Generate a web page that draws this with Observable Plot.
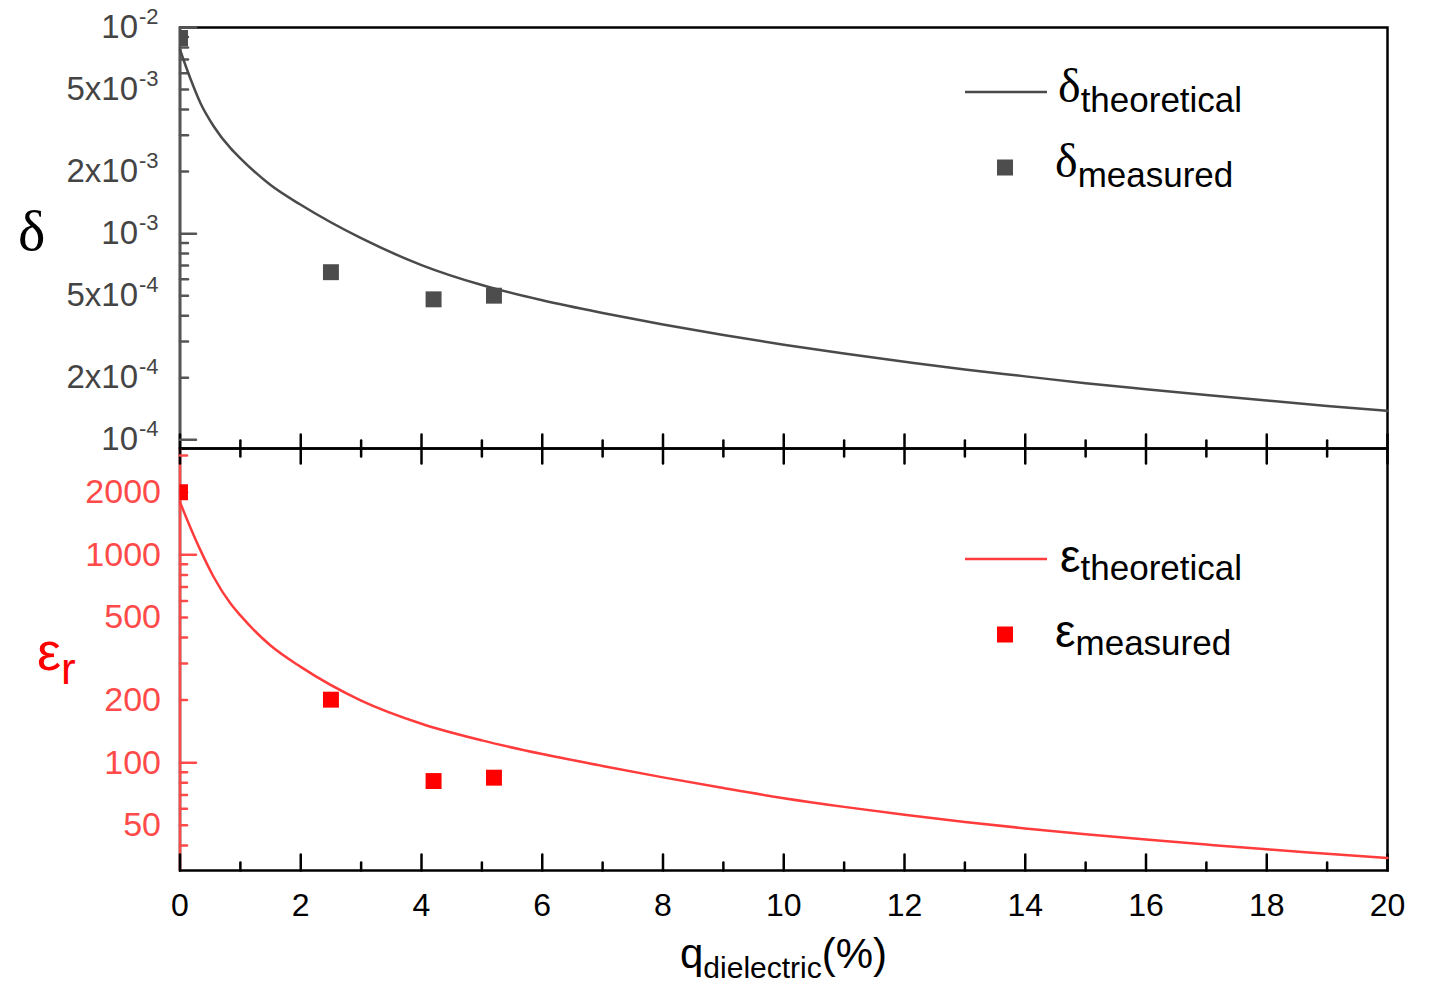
<!DOCTYPE html>
<html>
<head>
<meta charset="utf-8">
<script src="https://cdn.jsdelivr.net/npm/d3@7"></script>
<script src="https://cdn.jsdelivr.net/npm/@observablehq/plot@0.6"></script>
<style>
html, body { margin: 0; padding: 0; background: #fff; overflow: hidden; }
#wrap { position: relative; width: 1435px; height: 984px; }
#wrap svg { position: absolute; left: 0; max-width: none; }
</style>
</head>
<body>
<div id="wrap"></div>
<script>
// ---- data ----
const xTheory     = [0, 0.17, 0.34, 0.56, 0.84, 1, 1.5, 2, 3, 4, 5, 6, 7, 8, 9, 10, 11, 12, 13, 14, 15, 16, 17, 18, 19, 20];
const deltaTheory = [7.8e-3, 5.67e-3, 4.29e-3, 3.31e-3, 2.59e-3, 2.32e-3, 1.72e-3, 1.38e-3, 9.5e-4, 7.04e-4, 5.63e-4, 4.75e-4, 4.12e-4, 3.62e-4, 3.22e-4, 2.89e-4, 2.62e-4, 2.39e-4, 2.19e-4, 2.03e-4, 1.88e-4, 1.76e-4, 1.65e-4, 1.55e-4, 1.46e-4, 1.38e-4];
const epsTheory   = [1790, 1358, 1050, 780, 581, 511, 366, 289, 199, 154, 128, 110, 96.5, 85, 75.5, 67.5, 61.3, 56.2, 51.9, 48.3, 45.3, 42.7, 40.4, 38.3, 36.5, 34.8];

const xMeasured     = [0, 2.5, 4.2, 5.2];
const deltaMeasured = [8.9e-3, 6.5e-4, 4.8e-4, 5.0e-4];
const epsMeasured   = [2000, 201, 81.6, 84.7];

const xMajorTicks = [0, 2, 4, 6, 8, 10, 12, 14, 16, 18, 20];
const xMinorTicks = [1, 3, 5, 7, 9, 11, 13, 15, 17, 19];
const xTickLabels = ["0", "2", "4", "6", "8", "10", "12", "14", "16", "18", "20"];

const deltaMajorTicks = [1e-2, 1e-3, 1e-4];
const deltaMinorTicks = [9e-3, 8e-3, 7e-3, 6e-3, 5e-3, 4e-3, 3e-3, 2e-3, 9e-4, 8e-4, 7e-4, 6e-4, 5e-4, 4e-4, 3e-4, 2e-4];
const deltaLabelValues = [1e-2, 5e-3, 2e-3, 1e-3, 5e-4, 2e-4, 1e-4];
const deltaLabelBases  = ["10", "5x10", "2x10", "10", "5x10", "2x10", "10"];
const deltaLabelExps   = ["-2", "-3", "-3", "-3", "-4", "-4", "-4"];

const epsMajorTicks = [1000, 100];
const epsMinorTicks = [3000, 2000, 900, 800, 700, 600, 500, 400, 300, 200, 90, 80, 70, 60, 50, 40];
const epsLabelValues = [2000, 1000, 500, 200, 100, 50];
const epsLabels      = ["2000", "1000", "500", "200", "100", "50"];

const deltaDomain = [9.07e-5, 1e-2];
const epsDomain   = [30.3, 3246];

// ---- tables ----
const theory = xTheory.map((x, i) => ({x, delta: deltaTheory[i], eps: epsTheory[i]}));
const measured = xMeasured.map((x, i) => ({x, delta: deltaMeasured[i], eps: epsMeasured[i]}));
const deltaLabels = deltaLabelValues.map((v, i) => ({v, base: deltaLabelBases[i], exp: deltaLabelExps[i]}));
const epsLabelRows = epsLabelValues.map((v, i) => ({v, label: epsLabels[i]}));
const xLabelRows = xMajorTicks.map((v, i) => ({v, label: xTickLabels[i]}));

const tickShape = {draw(ctx, l) { ctx.moveTo(0, 0); ctx.lineTo(0, -l); }};
const SANS = "'Liberation Sans', Arial, sans-serif";
const SERIF = "'Liberation Serif', 'Times New Roman', serif";
const GRAY = "#4a4a4a";
const RED_LINE = "#ff3b3b";
const RED_AXIS = "#ff4a4a";
const RED = "#ff0000";

const W = 1435, ML = 179.5, MR = 48;

// ---- top panel (loss tangent) ----
const topPlot = Plot.plot({
  width: W, height: 470,
  marginTop: 27, marginBottom: 22, marginLeft: ML, marginRight: MR,
  x: {domain: [0, 20], axis: null},
  y: {type: "log", domain: deltaDomain, axis: null},
  style: {background: "transparent", overflow: "visible", fontFamily: SANS},
  marks: [
    Plot.frame({stroke: "#000", strokeWidth: 2.5}),
    Plot.ruleX([0], {stroke: "#555", strokeWidth: 2.5}),
    Plot.vector(xMajorTicks, {x: d => d, frameAnchor: "bottom", length: 14, rotate: 0, anchor: "start", shape: tickShape, stroke: "#000", strokeWidth: 2.5}),
    Plot.vector(xMinorTicks, {x: d => d, frameAnchor: "bottom", length: 8, rotate: 0, anchor: "start", shape: tickShape, stroke: "#000", strokeWidth: 2.5}),
    Plot.vector(deltaMajorTicks, {y: d => d, frameAnchor: "left", length: 16, rotate: 90, anchor: "start", shape: tickShape, stroke: "#555", strokeWidth: 2.5}),
    Plot.vector(deltaMinorTicks, {y: d => d, frameAnchor: "left", length: 8, rotate: 90, anchor: "start", shape: tickShape, stroke: "#555", strokeWidth: 2.5}),
    Plot.text(deltaLabels, {y: "v", text: "base", frameAnchor: "left", dx: -42, textAnchor: "end", lineAnchor: "middle", fontSize: 33, fill: "#444"}),
    Plot.text(deltaLabels, {y: "v", text: "exp", frameAnchor: "left", dx: -41, dy: -11, textAnchor: "start", lineAnchor: "middle", fontSize: 22, fill: "#444"}),
    Plot.line(theory, {x: "x", y: "delta", stroke: GRAY, strokeWidth: 2.5, curve: "monotone-x"}),
    Plot.dot(measured, {x: "x", y: "delta", symbol: "square", r: 9, fill: "#4d4d4d", stroke: "none", clip: true})
  ]
});

// ---- bottom panel (permittivity) ----
const bottomPlot = Plot.plot({
  width: W, height: 554,
  marginTop: 18, marginBottom: 114, marginLeft: ML, marginRight: MR,
  x: {domain: [0, 20], axis: null},
  y: {type: "log", domain: epsDomain, axis: null},
  style: {background: "transparent", overflow: "visible", fontFamily: SANS},
  marks: [
    Plot.frame({stroke: "#000", strokeWidth: 2.5}),
    Plot.ruleX([0], {stroke: RED_AXIS, strokeWidth: 2.5}),
    Plot.vector(xMajorTicks, {x: d => d, frameAnchor: "top", length: 15, rotate: 180, anchor: "start", shape: tickShape, stroke: "#000", strokeWidth: 2.5}),
    Plot.vector(xMinorTicks, {x: d => d, frameAnchor: "top", length: 8, rotate: 180, anchor: "start", shape: tickShape, stroke: "#000", strokeWidth: 2.5}),
    Plot.vector(xMajorTicks, {x: d => d, frameAnchor: "bottom", length: 16, rotate: 0, anchor: "start", shape: tickShape, stroke: "#000", strokeWidth: 2.5}),
    Plot.vector(xMinorTicks, {x: d => d, frameAnchor: "bottom", length: 8, rotate: 0, anchor: "start", shape: tickShape, stroke: "#000", strokeWidth: 2.5}),
    Plot.vector(epsMajorTicks, {y: d => d, frameAnchor: "left", length: 16, rotate: 90, anchor: "start", shape: tickShape, stroke: RED_AXIS, strokeWidth: 2.5}),
    Plot.vector(epsMinorTicks, {y: d => d, frameAnchor: "left", length: 7, rotate: 90, anchor: "start", shape: tickShape, stroke: RED_AXIS, strokeWidth: 2.5}),
    Plot.text(epsLabelRows, {y: "v", text: "label", frameAnchor: "left", dx: -19, textAnchor: "end", lineAnchor: "middle", fontSize: 34, fill: RED_AXIS}),
    Plot.text(xLabelRows, {x: "v", text: "label", frameAnchor: "bottom", dy: 35, textAnchor: "middle", lineAnchor: "middle", fontSize: 32, fill: "#000"}),
    Plot.line(theory, {x: "x", y: "eps", stroke: RED_LINE, strokeWidth: 2.5, curve: "monotone-x"}),
    Plot.dot(measured, {x: "x", y: "eps", symbol: "square", r: 9, fill: RED, stroke: "none", clip: true})
  ]
});

const wrap = document.getElementById("wrap");
topPlot.style.top = "0px";
bottomPlot.style.top = "430px";
wrap.appendChild(topPlot);
wrap.appendChild(bottomPlot);

// ---- overlay: axis titles and legends ----
const ov = d3.select(wrap).append("svg")
  .attr("width", W).attr("height", 984)
  .style("top", "0px").style("overflow", "visible")
  .style("pointer-events", "none");

// y-axis titles
ov.append("text").attr("x", 18).attr("y", 250)
  .attr("font-family", SERIF).attr("font-size", 58).attr("fill", "#000").text("δ");
const er = ov.append("text").attr("x", 37).attr("y", 670)
  .attr("font-family", SANS).attr("font-size", 54).attr("fill", RED);
er.append("tspan").text("ε");
er.append("tspan").attr("font-size", 44).attr("dy", 14).text("r");

// x-axis title
const xt = ov.append("text").attr("x", 680).attr("y", 968)
  .attr("font-family", SANS).attr("font-size", 42).attr("fill", "#000");
xt.append("tspan").text("q");
xt.append("tspan").attr("font-size", 30).attr("dy", 10).text("dielectric");
xt.append("tspan").attr("dy", -10).text("(%)");

// legend top
ov.append("line").attr("x1", 965).attr("x2", 1047).attr("y1", 92).attr("y2", 92)
  .attr("stroke", GRAY).attr("stroke-width", 2.5);
const l1 = ov.append("text").attr("x", 1058).attr("y", 102).attr("fill", "#000");
l1.append("tspan").attr("font-family", SERIF).attr("font-size", 48).text("δ");
l1.append("tspan").attr("font-family", SANS).attr("font-size", 35).attr("dy", 10).text("theoretical");
ov.append("rect").attr("x", 997).attr("y", 159.5).attr("width", 16).attr("height", 16).attr("fill", "#4d4d4d");
const l2 = ov.append("text").attr("x", 1055).attr("y", 177).attr("fill", "#000");
l2.append("tspan").attr("font-family", SERIF).attr("font-size", 48).text("δ");
l2.append("tspan").attr("font-family", SANS).attr("font-size", 35).attr("dy", 10).text("measured");

// legend bottom
ov.append("line").attr("x1", 965).attr("x2", 1047).attr("y1", 559).attr("y2", 559)
  .attr("stroke", RED_LINE).attr("stroke-width", 2.5);
const l3 = ov.append("text").attr("x", 1060).attr("y", 572).attr("fill", "#000");
l3.append("tspan").attr("font-family", SANS).attr("font-size", 46).text("ε");
l3.append("tspan").attr("font-family", SANS).attr("font-size", 35).attr("dy", 8).text("theoretical");
ov.append("rect").attr("x", 997).attr("y", 626.5).attr("width", 16).attr("height", 16).attr("fill", RED);
const l4 = ov.append("text").attr("x", 1055).attr("y", 647).attr("fill", "#000");
l4.append("tspan").attr("font-family", SANS).attr("font-size", 46).text("ε");
l4.append("tspan").attr("font-family", SANS).attr("font-size", 35).attr("dy", 8).text("measured");
</script>
</body>
</html>
